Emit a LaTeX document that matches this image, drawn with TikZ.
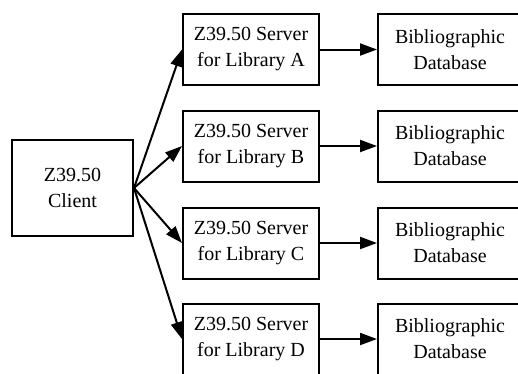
\documentclass[tikz,border=0pt]{standalone}
\usepackage{fontspec}
\setmainfont{Liberation Serif}
\usetikzlibrary{arrows.meta}
\begin{document}
\begin{tikzpicture}[x=1pt,y=-1pt,
  box/.style={draw,line width=2pt,rectangle,align=center,inner sep=0pt,
    font=\fontsize{20}{26}\selectfont},
  clientbox/.style={box,minimum width=121pt,minimum height=96pt},
  serverbox/.style={box,minimum width=136pt,minimum height=71pt},
  dbbox/.style={box,minimum width=144pt,minimum height=71pt},
  link/.style={line width=2pt,-{Triangle[length=17pt,width=12pt]}}]
\useasboundingbox (0,0) rectangle (518,373);
\clip (0,0) rectangle (518,373);
% client
\node[clientbox] (client) at (72.5,188) {Z39.50\\Client};
% servers and their databases
\foreach \lib/\yy in {A/49.5,B/146,C/243,D/339}{
  \node[serverbox] (srv\lib) at (251,\yy) {Z39.50 Server\\for Library \lib};
  \node[dbbox] (db\lib) at (450,\yy) {Bibliographic\\Database};
  \draw[link] (client.east) -- (srv\lib.west);
  \draw[link] (srv\lib.east) -- (db\lib.west);
}
\end{tikzpicture}
\end{document}
